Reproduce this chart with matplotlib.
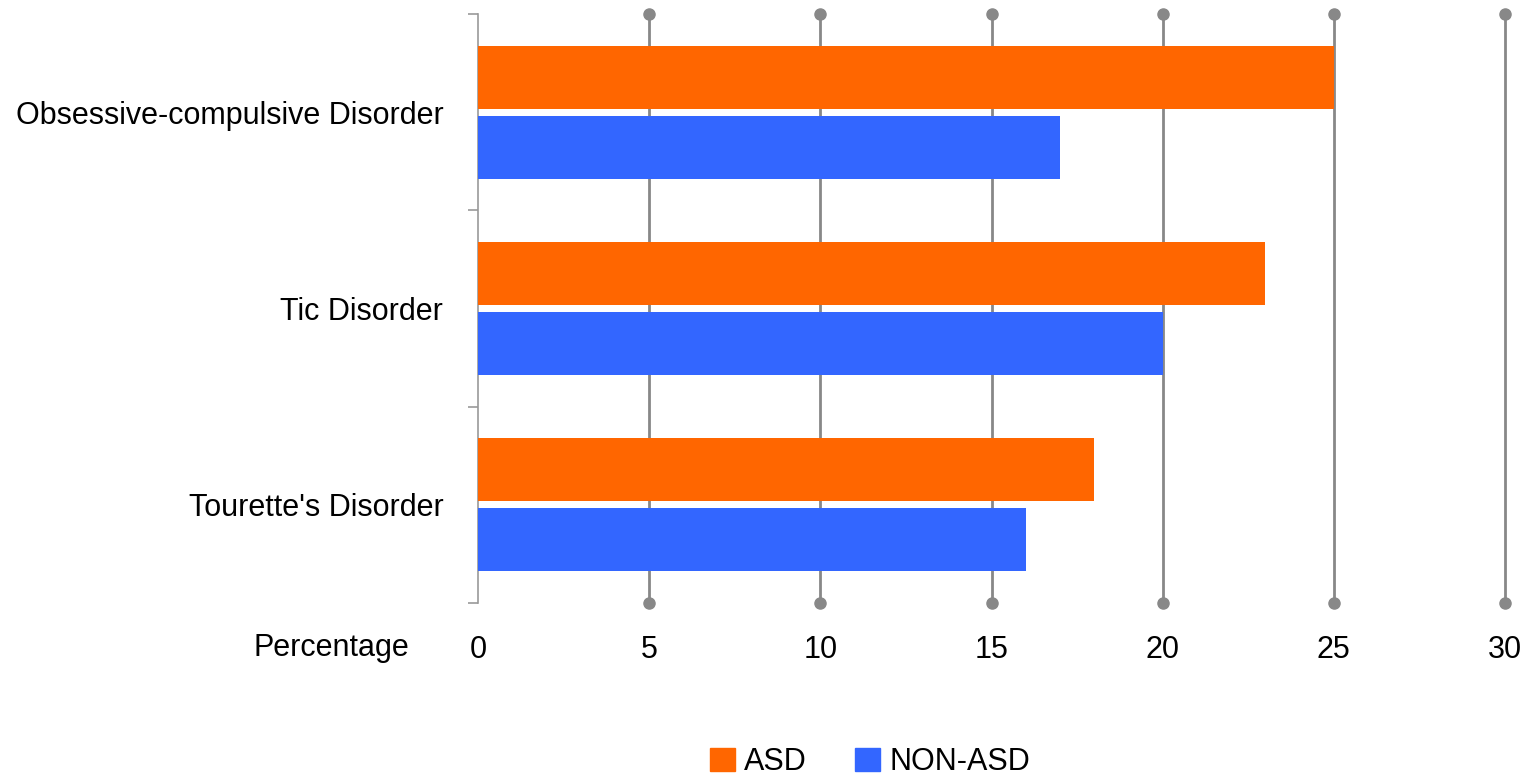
import matplotlib
matplotlib.use("Agg")
import matplotlib.pyplot as plt
from matplotlib.patches import Patch
from matplotlib import font_manager

categories = ["Obsessive-compulsive Disorder", "Tic Disorder", "Tourette's Disorder"]
asd = [25, 23, 18]
non_asd = [17, 20, 16]
xticks = [0, 5, 10, 15, 20, 25, 30]

ORANGE = "#FF6600"
BLUE = "#3366FF"
GRID = "#888888"

names = {f.name for f in font_manager.fontManager.ttflist}
narrow = "Liberation Sans Narrow" in names
family = "Liberation Sans Narrow" if narrow else "Liberation Sans"
plt.rcParams["font.family"] = [family, "DejaVu Sans"]
FS = 26 if narrow else 22

fig = plt.figure(figsize=(15.26, 7.77), dpi=100)
ax = fig.add_axes([478 / 1526, 1 - 603 / 777, 1027 / 1526, 589 / 777])

y = list(range(len(categories)))
h = 0.32
off = 0.178
ax.barh([v - off for v in y], asd, height=h, color=ORANGE, zorder=3)
ax.barh([v + off for v in y], non_asd, height=h, color=BLUE, zorder=3)

ax.set_xlim(0, 30)
ax.set_ylim(2.5, -0.5)

# vertical grid lines with round end caps
for x in xticks[1:]:
    ax.plot([x, x], [2.5, -0.5], color=GRID, lw=2, zorder=2, clip_on=False)
    ax.plot([x, x], [2.5, -0.5], "o", color=GRID, ms=8, zorder=2, clip_on=False)

for side in ["top", "right", "bottom"]:
    ax.spines[side].set_visible(False)
ax.spines["left"].set_color("#999999")
ax.spines["left"].set_linewidth(1.2)

ax.set_xticks(xticks)
ax.set_xticklabels([str(v) for v in xticks], fontsize=FS)
ax.tick_params(axis="x", length=0, pad=23)

ax.set_yticks(y)
ax.set_yticklabels(categories, fontsize=FS)
ax.tick_params(axis="y", which="major", length=0, pad=25)
ax.set_yticks([-0.5, 0.5, 1.5, 2.5], minor=True)
ax.tick_params(axis="y", which="minor", length=7, width=1.2, color="#999999")

fig.text(409 / 1526, 1 - 648 / 777, "Percentage", ha="right", va="center", fontsize=FS)

handles = [Patch(color=ORANGE, label="ASD"), Patch(color=BLUE, label="NON-ASD")]
fig.legend(handles=handles, loc="center", bbox_to_anchor=(870 / 1526, 1 - 762 / 777),
           ncol=2, frameon=False, fontsize=FS, handlelength=0.8, handleheight=0.8,
           handletextpad=0.3, columnspacing=1.6)

fig.savefig("out.png", dpi=100)
